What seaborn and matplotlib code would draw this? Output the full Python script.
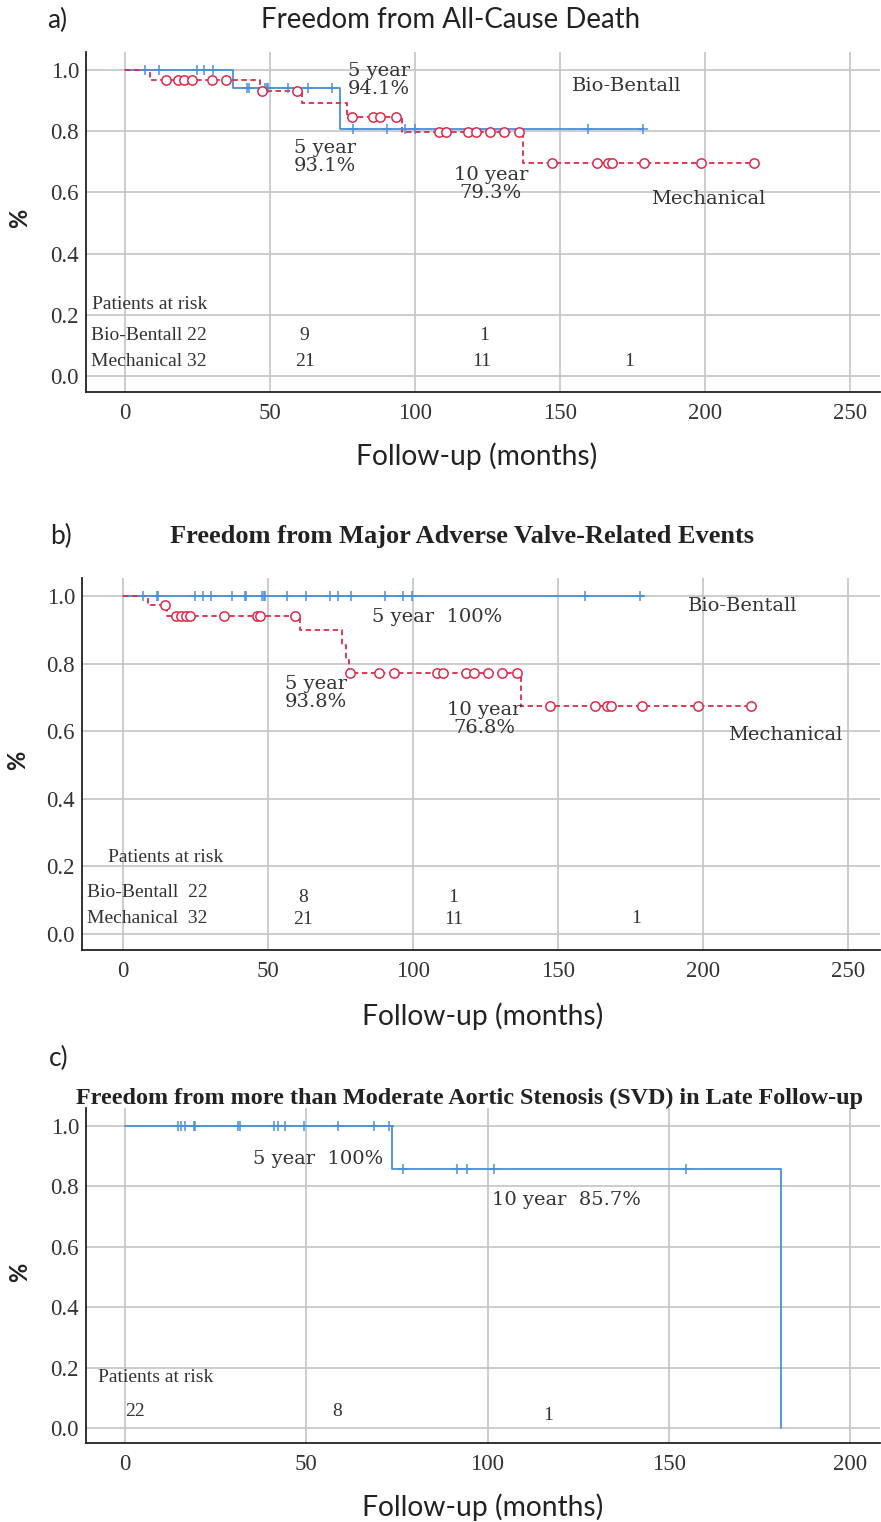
import matplotlib
matplotlib.use("Agg")
import matplotlib.pyplot as plt
import seaborn as sns

sns.set_theme(style="whitegrid")
plt.rcParams["font.family"] = ["Liberation Serif", "DejaVu Serif"]

BLUE = "#4a8fd8"
RED = "#de2a4b"
W, H = 881, 1522

# ---- panel a: all-cause death ----
a_bio_t = [0, 37.4, 74.1, 178.7]
a_bio_s = [1.0, 0.941, 0.807, 0.807]
a_bio_cens_t = [7.1, 11.7, 24.7, 27.3, 30.4, 42.0, 42.8, 48.3, 48.9, 49.4, 56.3, 63.0, 71.5,
                78.5, 90.2, 96.6, 100.0, 159.5, 178.7]
a_mech_t = [0, 8.6, 46.6, 60.9, 76.4, 95.4, 137.1, 216.9]
a_mech_s = [1.0, 0.969, 0.931, 0.891, 0.848, 0.796, 0.697, 0.697]
a_mech_cens_t = [14.1, 18.2, 20.4, 23.2, 30.1, 34.7, 47.1, 59.2, 78.3, 85.6, 87.9, 93.4,
                 108.4, 110.7, 118.2, 121.0, 125.9, 130.8, 136.0,
                 147.3, 162.8, 166.7, 168.0, 179.0, 198.5, 216.9]

# ---- panel b: major adverse valve-related events ----
b_bio_t = [0, 179.3]
b_bio_s = [1.0, 1.0]
b_bio_cens_t = [7.0, 11.6, 12.0, 24.8, 27.5, 30.3, 37.5, 42.1, 42.6, 48.1, 48.6, 49.1, 56.7,
                63.0, 71.4, 74.0, 78.5, 90.3, 96.7, 99.8, 159.3, 178.3]
b_mech_t = [0, 8.7, 15.3, 61.0, 75.4, 76.9, 77.8, 137.1, 216.6]
b_mech_s = [1.0, 0.973, 0.942, 0.899, 0.855, 0.81, 0.771, 0.675, 0.675]
b_mech_cens_t = [14.5, 18.3, 20.2, 21.9, 23.1, 34.8, 46.1, 47.2, 59.5, 78.3, 88.3, 93.4,
                 108.4, 110.3, 118.2, 120.9, 125.7, 130.8, 136.0,
                 147.2, 162.8, 166.8, 168.2, 179.1, 198.4, 216.6]

# ---- panel c: SVD ----
c_bio_t = [0, 73.7, 181.1]
c_bio_s = [1.0, 0.857, 0.0]
c_bio_cens_t = [14.6, 15.4, 16.4, 18.9, 19.4, 31.2, 31.8, 41.1, 42.2, 44.1, 49.4, 58.7,
                68.8, 72.7, 76.8, 91.5, 94.2, 101.9, 154.8]


def surv_at(t, times, surv):
    val = surv[0]
    for tt, ss in zip(times, surv):
        if t >= tt:
            val = ss
    return val


def box(l, t, r, b):
    return [l / W, 1 - b / H, (r - l) / W, (b - t) / H]


def style_axes(ax, xlim, ylim, xticks):
    ax.set_xlim(*xlim)
    ax.set_ylim(*ylim)
    ax.set_xticks(xticks)
    ax.set_xticklabels([str(v) for v in xticks])
    ax.set_yticks([0, 0.2, 0.4, 0.6, 0.8, 1.0])
    ax.set_yticklabels(["0.0", "0.2", "0.4", "0.6", "0.8", "1.0"])
    ax.grid(True, color="#c4c4c4", linewidth=1.2)
    for s in ["top", "right"]:
        ax.spines[s].set_visible(False)
    for s in ["left", "bottom"]:
        ax.spines[s].set_color("#222222")
        ax.spines[s].set_linewidth(1.3)
    ax.tick_params(length=0, labelsize=16.5, labelcolor="#333333",
                   labelfontfamily="Liberation Serif")
    ax.tick_params(axis="x", pad=8)
    ax.tick_params(axis="y", pad=5)
    ax.set_xlabel("")
    ax.set_ylabel("")


def draw_curve(ax, times, surv, cens, color, dashed, marker):
    sns.lineplot(x=times, y=surv, ax=ax, color=color, estimator=None, drawstyle="steps-post",
                 linewidth=1.3, linestyle=(0, (3, 2)) if dashed else "-")
    cy = [surv_at(t, times, surv) for t in cens]
    if marker == "o":
        sns.scatterplot(x=cens, y=cy, ax=ax, marker="o", s=45, facecolor="white",
                        edgecolor=color, linewidth=1.1, zorder=5)
    else:
        sns.scatterplot(x=cens, y=cy, ax=ax, marker="+", s=55, color=color,
                        linewidth=1.1, zorder=5)


ann = dict(family="DejaVu Serif", fontsize=14, color="#333333", linespacing=1.0)
risk = dict(family="Liberation Serif", fontsize=14, color="#333333", va="center")
sans_label = dict(family="Lato", fontsize=20.3, color="#222222", ha="center", va="center")
pct_label = dict(family="Lato", fontsize=17, fontweight="bold", color="#222222",
                 ha="center", va="center", rotation=90)
letter = dict(family="Lato", fontsize=19, color="#222222", ha="center", va="center")

fig = plt.figure(figsize=(W / 100, H / 100), dpi=100)

# ---------------- a ----------------
ax = fig.add_axes(box(86, 52, 880, 392))
draw_curve(ax, a_bio_t, a_bio_s, a_bio_cens_t, BLUE, False, "+")
draw_curve(ax, a_mech_t, a_mech_s, a_mech_cens_t, RED, True, "o")
style_axes(ax, (-13.4, 260.3), (-0.052, 1.059), [0, 50, 100, 150, 200, 250])
ax.text(76.9, 1.025, "5 year\n94.1%", va="top", ha="left", **ann)
ax.text(154, 0.948, "Bio-Bentall", va="center", ha="left", **ann)
ax.text(58.3, 0.775, "5 year\n93.1%", va="top", ha="left", **ann)
ax.text(126.2, 0.687, "10 year\n79.3%", va="top", ha="center", **ann)
ax.text(181.4, 0.578, "Mechanical", va="center", ha="left", **ann)
ax.text(-11.4, 0.235, "Patients at risk", ha="left", **risk)
ax.text(-11.7, 0.131, "Bio-Bentall 22", ha="left", **risk)
ax.text(-11.7, 0.049, "Mechanical 32", ha="left", **risk)
ax.text(62, 0.131, "9", ha="center", **risk)
ax.text(124, 0.131, "1", ha="center", **risk)
ax.text(62, 0.047, "21", ha="center", **risk)
ax.text(123, 0.049, "11", ha="center", **risk)
ax.text(174, 0.049, "1", ha="center", **risk)
fig.text(57 / W, 1 - 20 / H, "a)", **letter)
fig.text(451 / W, 1 - 20 / H, "Freedom from All-Cause Death",
         **dict(sans_label, fontsize=19.9))
fig.text(477 / W, 1 - 456 / H, "Follow-up (months)", **sans_label)
fig.text(20 / W, 1 - 218 / H, "%", **pct_label)

# ---------------- b ----------------
ax = fig.add_axes(box(82, 578, 880, 950))
draw_curve(ax, b_bio_t, b_bio_s, b_bio_cens_t, BLUE, False, "+")
draw_curve(ax, b_mech_t, b_mech_s, b_mech_cens_t, RED, True, "o")
style_axes(ax, (-14.1, 261), (-0.047, 1.053), [0, 50, 100, 150, 200, 250])
ax.text(85.9, 0.938, "5 year  100%", va="center", ha="left", **ann)
ax.text(194.8, 0.97, "Bio-Bentall", va="center", ha="left", **ann)
ax.text(55.9, 0.765, "5 year\n93.8%", va="top", ha="left", **ann)
ax.text(124.5, 0.69, "10 year\n76.8%", va="top", ha="center", **ann)
ax.text(208.6, 0.589, "Mechanical", va="center", ha="left", **ann)
ax.text(-5.2, 0.228, "Patients at risk", ha="left", **risk)
ax.text(-12.4, 0.124, "Bio-Bentall  22", ha="left", **risk)
ax.text(-12.4, 0.047, "Mechanical  32", ha="left", **risk)
ax.text(62, 0.107, "8", ha="center", **risk)
ax.text(114, 0.107, "1", ha="center", **risk)
ax.text(62, 0.042, "21", ha="center", **risk)
ax.text(114, 0.042, "11", ha="center", **risk)
ax.text(177, 0.047, "1", ha="center", **risk)
fig.text(61 / W, 1 - 536 / H, "b)", **letter)
fig.text(462 / W, 1 - 536 / H, "Freedom from Major Adverse Valve-Related Events",
         family="Liberation Serif", fontsize=19, fontweight="bold", color="#222222",
         ha="center", va="center")
fig.text(483 / W, 1 - 1016 / H, "Follow-up (months)", **sans_label)
fig.text(18 / W, 1 - 760 / H, "%", **pct_label)

# ---------------- c ----------------
ax = fig.add_axes(box(86, 1108, 880, 1443))
draw_curve(ax, c_bio_t, c_bio_s, c_bio_cens_t, BLUE, False, "+")
style_axes(ax, (-10.8, 208.3), (-0.05, 1.06), [0, 50, 100, 150, 200])
ax.text(35.3, 0.892, "5 year  100%", va="center", ha="left", **ann)
ax.text(101.2, 0.755, "10 year  85.7%", va="center", ha="left", **ann)
ax.text(-7.4, 0.166, "Patients at risk", ha="left", **risk)
ax.text(2.8, 0.053, "22", ha="center", **risk)
ax.text(58.5, 0.053, "8", ha="center", **risk)
ax.text(116.7, 0.04, "1", ha="center", **risk)
fig.text(59 / W, 1 - 1058 / H, "c)", **letter)
fig.text(469 / W, 1 - 1098 / H,
         "Freedom from more than Moderate Aortic Stenosis (SVD) in Late Follow-up",
         family="Liberation Serif", fontsize=17.4, fontweight="bold", color="#222222",
         ha="center", va="center")
fig.text(483 / W, 1 - 1507 / H, "Follow-up (months)", **sans_label)
fig.text(20 / W, 1 - 1272 / H, "%", **pct_label)

fig.savefig("out.png", dpi=100)
